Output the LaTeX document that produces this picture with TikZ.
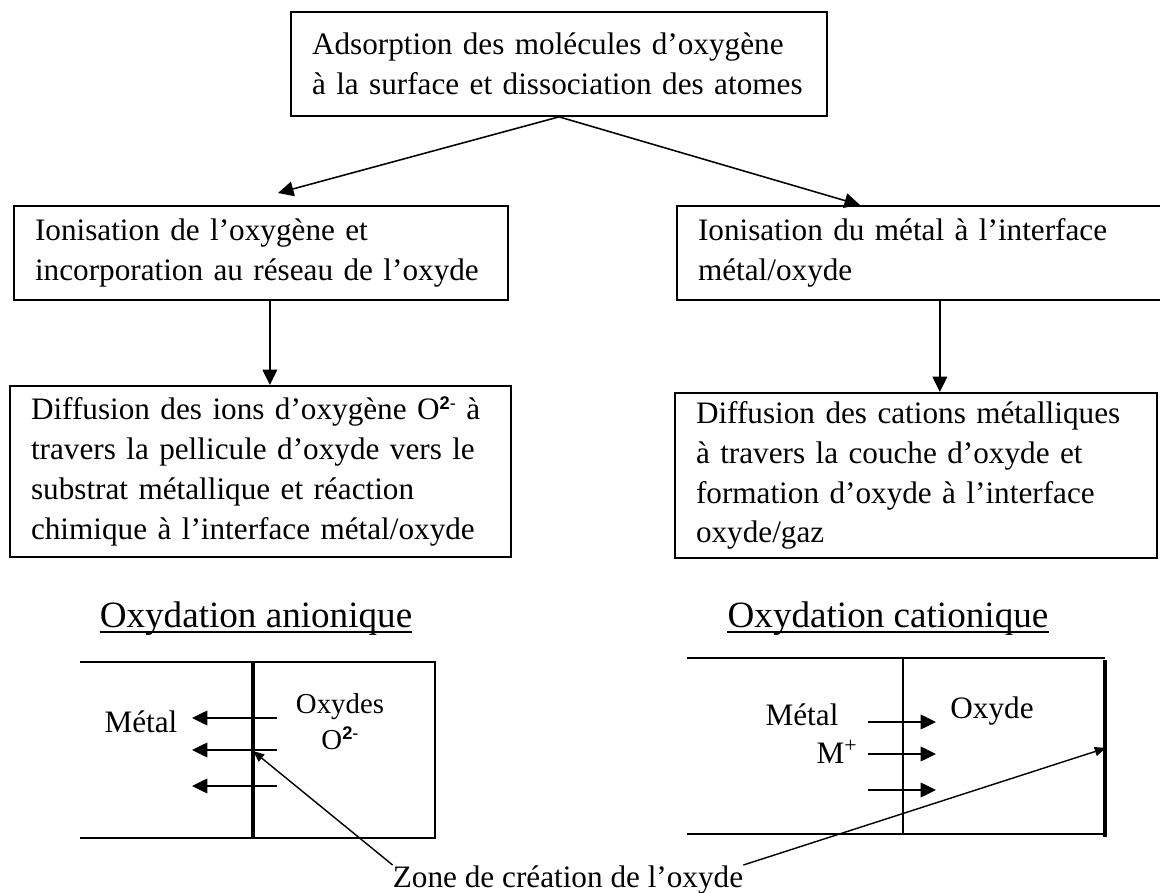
\documentclass[tikz,border=0pt]{standalone}
\usepackage{fontspec}
\setmainfont{Liberation Serif}
\setsansfont{Liberation Sans}
\usetikzlibrary{arrows.meta}

\newcommand{\expoO}{\raisebox{7pt}{\fontsize{13}{13}\selectfont\sffamily\bfseries 2\mdseries -}}

\tikzset{
  boite/.style={draw, line width=1.3pt, anchor=north west, align=left,
    inner xsep=15pt, inner ysep=0pt, font=\fontsize{22.2}{28.4}\selectfont},
  texte/.style={inner sep=0pt, anchor=base, font=\fontsize{22.2}{26}\selectfont},
  titre/.style={inner sep=0pt, anchor=base, font=\fontsize{26.4}{30}\selectfont},
  fleche/.style={-{Triangle[length=11pt,width=10.5pt]}, line width=1.1pt},
  pointeur/.style={-{Triangle[length=8pt,width=6.5pt]}, line width=1pt},
  trait/.style={line width=1.4pt},
  epais/.style={line width=2.6pt}
}

\begin{document}
\begin{tikzpicture}[x=0.025cm, y=-0.025cm]
      \useasboundingbox (0,0) rectangle (1160,893);
      \node[boite, text width=12.35cm, minimum height=2.6cm] (adsorption) at (290,11)
        {Adsorption des molécules d’oxygène\\à la surface et dissociation des atomes};
      \node[boite, text width=11.29cm, minimum height=2.35cm] (ionOxy) at (13,205)
        {Ionisation de l’oxygène et\\incorporation au réseau de l’oxyde};
      \node[boite, text width=11.14cm, minimum height=2.35cm] (ionMetal) at (676,205)
        {Ionisation du métal à l’interface\\métal/oxyde};
      \node[boite, text width=11.47cm, minimum height=4.275cm] (diffOxy) at (9,385)
        {Diffusion des ions d’oxygène O\expoO{} à\\travers la pellicule d’oxyde vers le\\substrat métallique et réaction\\chimique à l’interface métal/oxyde};
      \node[boite, text width=10.99cm, minimum height=4.125cm] (diffMetal) at (674,392)
        {Diffusion des cations métalliques\\à travers la couche d’oxyde et\\formation d’oxyde à l’interface\\oxyde/gaz};
      \coordinate (versL) at (278,193);
      \coordinate (versR) at (860,205);
      \coordinate (depL) at ([xshift=0.225cm]ionOxy.south);
      \coordinate (depR) at ([xshift=0.475cm]ionMetal.south);
      \begin{scope}[fleche]
        \draw (adsorption.south) to (versL);
        \draw (adsorption.south) to (versR);
        \draw (depL) to (depL |- diffOxy.north);
        \draw (depR) to (depR |- diffMetal.north);
      \end{scope}

      \node[titre] (titreAnion) at (256,627) {Oxydation anionique};
      \node[titre] (titreCation) at (888,627) {Oxydation cationique};
      \draw[line width=1pt] ([yshift=-3.5pt]titreAnion.base west) -- ([yshift=-3.5pt]titreAnion.base east);
      \draw[line width=1pt] ([yshift=-3.5pt]titreCation.base west) -- ([yshift=-3.5pt]titreCation.base east);

      \draw[trait] (80,662) -- (435,662) -- (435,838) -- (80,838);
      \draw[epais] (253,662) -- (253,838);
      \foreach \y in {718,750,786}
        \draw[fleche] (277,\y) -- (192,\y);
      \node[texte] (metalA) at (141,732) {Métal};
      \node[texte, font=\fontsize{20.5}{24}\selectfont] (oxydes) at (340,713) {Oxydes};
      \node[texte, font=\fontsize{20.5}{24}\selectfont] (ionO) at (340,749) {O\expoO};

      \draw[trait] (687,658) -- (1105,658);
      \draw[trait] (687,834) -- (1105,834);
      \draw[line width=0.9pt] (903,658) -- (903,834);
      \draw[epais] (1105,660) -- (1105,837);
      \foreach \y in {722,754,790}
        \draw[fleche] (868,\y) -- (936,\y);
      \node[texte] (metalC) at (802,725) {Métal};
      \node[texte] (ionM) at (837,763) {M\textsuperscript{+}};
      \node[texte] (oxyde) at (992,718) {Oxyde};

      \node[texte] (zone) at (568,887) {Zone de création de l’oxyde};
      \coordinate (zoneA) at (253,751);
      \coordinate (zoneC) at (1106,748);
      \draw[pointeur] (zone.north west) -- (zoneA);
      \draw[pointeur] (zone.north east) -- (zoneC);
\end{tikzpicture}
\end{document}
